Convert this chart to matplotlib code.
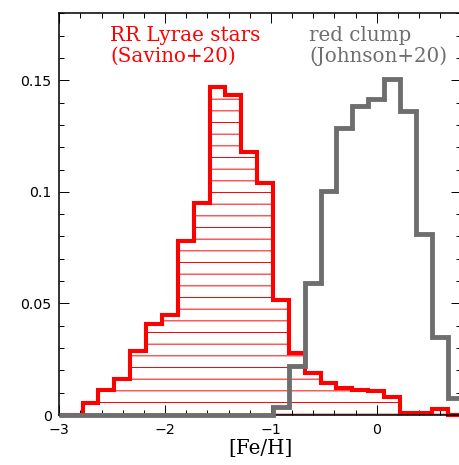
import numpy as np
import matplotlib
matplotlib.use("Agg")
import matplotlib.pyplot as plt
from matplotlib.ticker import MultipleLocator, FuncFormatter

# bin edges in [Fe/H] (0.15 dex bins), first one is an empty partial bin
edges = [-3.0, -2.78, -2.63, -2.48, -2.33, -2.18, -2.03, -1.88, -1.73, -1.58,
         -1.43, -1.28, -1.13, -0.98, -0.83, -0.68, -0.53, -0.38, -0.23, -0.08,
         0.07, 0.22, 0.37, 0.52, 0.67, 0.82]

# RR Lyrae (Savino+20)
rrl = [0.0, 0.0052, 0.0112, 0.0160, 0.0287, 0.0406, 0.0448, 0.0781, 0.0952,
       0.1470, 0.1436, 0.1179, 0.1038, 0.0515, 0.0279, 0.0187, 0.0142, 0.0120,
       0.0112, 0.0106, 0.0079, 0.0008, 0.0008, 0.0025, 0.0]

# red clump (Johnson+20)
rc = [0.0, 0.0, 0.0, 0.0, 0.0, 0.0, 0.0, 0.0, 0.0, 0.0, 0.0, 0.0, 0.0,
      0.0037, 0.0219, 0.0590, 0.1004, 0.1284, 0.1384, 0.1414, 0.1505, 0.1361,
      0.0811, 0.0351, 0.0075]

RED = "#ff0000"
GREY = "#6e6e6e"
DPI = 70

plt.rcParams["hatch.linewidth"] = 1.0

fig = plt.figure(figsize=(459 / DPI, 465 / DPI), dpi=DPI)
ax = fig.add_axes([0.1292, 0.1075, 0.8758, 0.8639])

# hatched fill under the RR Lyrae histogram
ax.stairs(rrl, edges, fill=True, facecolor="white", edgecolor=RED,
          hatch="-", linewidth=0, zorder=1)
ax.stairs(rrl, edges, color=RED, linewidth=4.2, zorder=2, clip_on=False)
ax.stairs(rc, edges, color=GREY, linewidth=5.0, zorder=3, clip_on=False)

ax.set_xlim(-3, 0.8)
ax.set_ylim(0, 0.18)

ax.xaxis.set_major_locator(MultipleLocator(1))
ax.xaxis.set_minor_locator(MultipleLocator(0.2))
ax.yaxis.set_major_locator(MultipleLocator(0.05))
ax.yaxis.set_minor_locator(MultipleLocator(0.01))
ax.yaxis.set_major_formatter(FuncFormatter(lambda v, p: "%g" % v))

ax.tick_params(which="both", direction="in", top=True, right=True,
               width=1.0, labelsize=14.5)
ax.tick_params(which="major", length=10, pad=8)
ax.tick_params(which="minor", length=5)
for s in ax.spines.values():
    s.set_linewidth(1.6)

serif = {"family": "DejaVu Serif", "size": 20.5}
ax.set_xlabel("[Fe/H]", fontdict=serif, labelpad=2)

ax.text(-2.52, 0.1675, "RR Lyrae stars", color=RED, va="baseline", **serif)
ax.text(-2.52, 0.1582, "(Savino+20)", color=RED, va="baseline", **serif)
ax.text(-0.635, 0.1675, "red clump", color=GREY, va="baseline", **serif)
ax.text(-0.635, 0.1582, "(Johnson+20)", color=GREY, va="baseline", **serif)

fig.savefig("out.png", dpi=DPI)
